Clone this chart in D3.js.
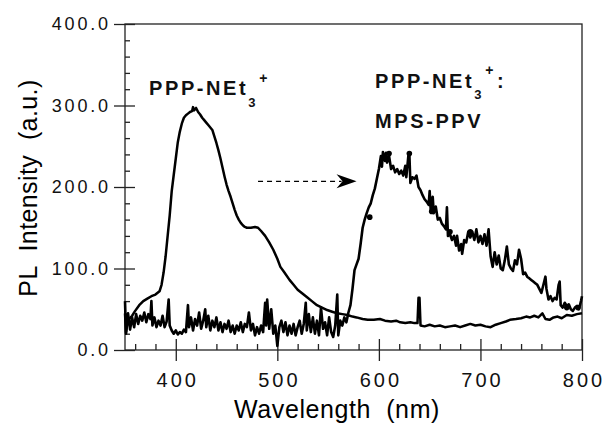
<!DOCTYPE html>
<html>
<head>
<meta charset="utf-8">
<script src="https://cdn.jsdelivr.net/npm/d3@7"></script>
<style>
  body { margin: 0; background: #fff; }
  svg { display: block; font-family: "Liberation Sans", Arial, sans-serif; }
  .axis path, .axis line { stroke: #222; stroke-width: 1.3; }
  .axis text { fill: #111; }
  .lbl { font-weight: bold; fill: #111; }
</style>
</head>
<body>
<div class="chart"></div>
<script>
// Tick values
const xTicks = [400, 500, 600, 700, 800];
const yTicks = [0, 100, 200, 300, 400];

// PPP-NEt3+ alone: [wavelength nm, PL intensity]
const pppNEt = [
  [350,45],[351,22],[352,30],[354,38],[357,42],[360,48],[364,55],[368,60],[372,63],[376,66],[380,68],[384,72],
  [386,80],[388,95],[390,115],[392,140],[394,165],[396,195],[398,215],[400,235],[402,255],[404,268],[406,278],
  [408,285],[410,288],[412,290],[414,292],[416,293],[417,298],[418,294],[420,297],[422,292],[424,289],[426,285],
  [428,282],[430,279],[432,276],[434,273],[436,270],[438,262],[440,254],[442,245],[444,235],[446,224],[448,213],
  [450,203],[452,195],[454,188],[456,180],[458,172],[460,165],[462,160],[464,156],[466,153],[468,151],[470,150],
  [474,150],[478,151],[481,150],[484,146],[488,140],[492,132],[496,123],[500,112],[503,102],[507,95],[512,86],
  [516,80],[520,74],[525,69],[529,65],[534,60],[539,55],[544,52],[549,49],[554,47],[559,45],[564,44],[569,43],
  [574,41],[578,40],[584,38],[589,37],[595,37],[601,38],[606,36],[612,35],[617,36],[621,34],[626,33],[631,34],
  [635,33],[638,33],[639,64],[640,64],[641,30],[645,29],[650,31],[655,29],[660,30],[665,28],[670,29],[675,30],
  [680,28],[685,30],[690,32],[695,30],[700,31],[705,29],[710,28],[715,31],[720,33],[725,35],[729,37],[735,38],
  [740,39],[745,41],[749,40],[753,42],[757,40],[761,45],[764,38],[768,37],[772,40],[776,41],[780,39],[785,43],
  [790,42],[795,44],[800,45]
];

// PPP-NEt3+ : MPS-PPV blend
const blend = [
  [350,60],[351,20],[353,45],[355,25],[357,40],[359,28],[361,44],[363,32],[365,42],[367,36],[369,46],[371,34],
  [373,44],[375,38],[376,60],[377,30],[379,40],[381,28],[383,36],[385,30],[387,42],[389,28],[391,35],[393,62],
  [394,30],[396,24],[398,20],[400,24],[402,19],[404,22],[406,20],[408,25],[410,22],[412,55],[413,28],[415,40],
  [417,24],[419,38],[421,30],[423,46],[425,26],[427,36],[429,50],[430,28],[432,42],[434,24],[436,36],[438,28],
  [440,40],[442,24],[444,34],[446,22],[448,32],[450,26],[452,36],[454,22],[456,30],[458,20],[460,30],[462,24],
  [464,34],[466,22],[468,32],[470,28],[472,46],[474,24],[476,32],[478,18],[480,28],[482,20],[484,30],[486,22],
  [488,58],[489,30],[490,62],[492,26],[494,50],[496,20],[498,30],[500,5],[502,28],[504,36],[506,22],[508,34],
  [510,18],[512,30],[514,20],[516,32],[518,18],[520,28],[522,36],[524,20],[526,32],[528,58],[529,24],[531,44],
  [533,22],[535,40],[537,20],[539,36],[541,18],[543,52],[545,26],[547,34],[549,18],[551,40],[553,22],[555,16],
  [557,30],[559,68],[560,18],[562,36],[564,30],[566,40],[568,34],[570,46],[572,55],[574,75],[576,98],[578,105],
  [580,112],[582,130],[584,150],[586,160],[588,168],[590,175],[592,180],[594,190],[596,198],[598,210],[600,222],
  [602,238],[603,225],[604,243],[606,232],[607,242],[608,230],[610,238],[612,222],[614,226],[616,218],[618,222],
  [620,216],[622,220],[624,214],[626,226],[627,212],[629,238],[630,241],[631,205],[633,212],[635,210],[637,214],
  [639,200],[641,196],[643,190],[645,185],[647,182],[649,178],[650,195],[651,172],[653,188],[654,168],[656,176],
  [658,160],[660,162],[662,155],[664,152],[666,148],[667,175],[668,140],[670,142],[672,135],[674,140],[676,128],
  [677,140],[679,122],[681,130],[682,118],[684,135],[686,132],[688,145],[690,138],[692,145],[694,135],[696,148],
  [698,132],[700,140],[702,130],[704,142],[706,128],[708,148],[710,115],[712,102],[714,120],[716,105],[718,116],
  [720,100],[722,98],[724,110],[726,127],[728,105],[730,100],[732,97],[734,110],[736,105],[738,123],[740,112],
  [742,93],[744,95],[746,90],[748,88],[750,86],[752,84],[754,82],[756,80],[758,75],[760,70],[762,80],[764,90],
  [765,75],[767,62],[769,66],[771,60],[773,64],[775,62],[777,80],[778,84],[779,55],[781,52],[783,58],[785,54],
  [787,56],[789,50],[791,48],[793,52],[795,54],[797,50],[799,60],[800,66]
];

// small dot markers on the blend curve
const blendDots = [[591,163],[610,241],[630,241],[652,170],[670,145],[690,145],[785,52],[796,52]];

// dashed arrow (from, to) in data units
const arrowFrom = [481, 207];
const arrowTo = [578, 207];

const W = 605, H = 426;
const margin = {top: 24, right: 23, bottom: 76, left: 125};
const x = d3.scaleLinear([350, 800], [margin.left, W - margin.right]);
const y = d3.scaleLinear([0, 400], [H - margin.bottom, margin.top]);

const svg = d3.select('.chart').append('svg')
  .attr('width', W).attr('height', H);

// frame
svg.append('rect')
  .attr('x', x(350)).attr('y', y(400))
  .attr('width', x(800) - x(350)).attr('height', y(0) - y(400))
  .attr('fill', 'none').attr('stroke', '#222').attr('stroke-width', 1.3);

// minor ticks
const minorX = d3.range(360, 800, 20).filter(d => d % 100 !== 0);
const minorY = d3.range(20, 400, 20).filter(d => d % 100 !== 0);

svg.append('g').attr('class', 'axis')
  .attr('transform', `translate(0,${y(0)})`)
  .call(d3.axisBottom(x).tickValues(minorX).tickSize(-6).tickFormat(''))
  .call(g => g.select('.domain').remove());

svg.append('g').attr('class', 'axis')
  .attr('transform', `translate(${x(350)},0)`)
  .call(d3.axisLeft(y).tickValues(minorY).tickSize(-5).tickFormat(''))
  .call(g => g.select('.domain').remove());

// major ticks, inner part
svg.append('g').attr('class', 'axis')
  .attr('transform', `translate(0,${y(0)})`)
  .call(d3.axisBottom(x).tickValues(xTicks).tickSize(-11).tickFormat(''))
  .call(g => g.select('.domain').remove());

svg.append('g').attr('class', 'axis')
  .attr('transform', `translate(${x(350)},0)`)
  .call(d3.axisLeft(y).tickValues(yTicks).tickSize(-10).tickFormat(''))
  .call(g => g.select('.domain').remove());

// major ticks, outer part with labels
const xAxis = svg.append('g').attr('class', 'axis')
  .attr('transform', `translate(0,${y(0)})`)
  .call(d3.axisBottom(x).tickValues(xTicks).tickSize(11).tickPadding(12).tickSizeOuter(0))
  .call(g => g.select('.domain').remove());
xAxis.selectAll('text')
  .style('font-size', '20px').style('letter-spacing', '3px')
  .attr('dx', '1.5px');

const yAxis = svg.append('g').attr('class', 'axis')
  .attr('transform', `translate(${x(350)},0)`)
  .call(d3.axisLeft(y).tickValues(yTicks).tickSize(11).tickPadding(6)
    .tickFormat(d3.format('.1f')).tickSizeOuter(0))
  .call(g => g.select('.domain').remove());
yAxis.selectAll('text')
  .style('font-size', '18px').style('letter-spacing', '2.8px')
  .attr('dx', '2.8px');

// axis titles
svg.append('text')
  .attr('x', 337).attr('y', 418)
  .attr('text-anchor', 'middle')
  .style('font-size', '25px').style('letter-spacing', '0.6px')
  .attr('xml:space', 'preserve')
  .text('Wavelength  (nm)');

svg.append('text')
  .attr('transform', 'translate(37,188) rotate(-90)')
  .attr('text-anchor', 'middle')
  .style('font-size', '25px').style('letter-spacing', '0.4px')
  .attr('xml:space', 'preserve')
  .text('PL  Intensity  (a.u.)');

// curves
const line = d3.line().x(d => x(d[0])).y(d => y(d[1]));

svg.append('path')
  .datum(blend)
  .attr('d', line)
  .attr('fill', 'none').attr('stroke', '#000')
  .attr('stroke-width', 2.6).attr('stroke-linejoin', 'round');

svg.append('path')
  .datum(pppNEt)
  .attr('d', line)
  .attr('fill', 'none').attr('stroke', '#000')
  .attr('stroke-width', 2.5).attr('stroke-linejoin', 'round');

svg.selectAll('.dot')
  .data(blendDots)
  .enter()
  .append('circle')
  .attr('class', 'dot')
  .attr('cx', d => x(d[0])).attr('cy', d => y(d[1]))
  .attr('r', 2.8).attr('fill', '#000');

// dashed arrow
svg.append('line')
  .attr('x1', x(arrowFrom[0])).attr('y1', y(arrowFrom[1]))
  .attr('x2', x(arrowTo[0]) - 15).attr('y2', y(arrowTo[1]))
  .attr('stroke', '#000').attr('stroke-width', 1.2)
  .attr('stroke-dasharray', '5,4');

const tx = x(arrowTo[0]), ty = y(arrowTo[1]);
svg.append('path')
  .attr('d', `M${tx},${ty} L${tx - 20},${ty - 7} L${tx - 14},${ty} L${tx - 20},${ty + 7} Z`)
  .attr('fill', '#000');

// labels
const lab1 = svg.append('text').attr('class', 'lbl')
  .attr('x', 149).attr('y', 95)
  .style('font-size', '20px').style('letter-spacing', '2.6px');
lab1.append('tspan').text('PPP-NEt');
lab1.append('tspan').text('3').style('font-size', '13px').attr('dy', 12).attr('dx', 0);
lab1.append('tspan').text('+').style('font-size', '14px').attr('dy', -24).attr('dx', 1);

const lab2 = svg.append('text').attr('class', 'lbl')
  .attr('x', 375).attr('y', 88)
  .style('font-size', '20px').style('letter-spacing', '2.6px');
lab2.append('tspan').text('PPP-NEt');
lab2.append('tspan').text('3').style('font-size', '13px').attr('dy', 11).attr('dx', 0);
lab2.append('tspan').text('+').style('font-size', '14px').attr('dy', -24).attr('dx', 1);
lab2.append('tspan').text(':').attr('dy', 13).attr('dx', 1);

svg.append('text').attr('class', 'lbl')
  .attr('x', 375).attr('y', 128)
  .style('font-size', '20px').style('letter-spacing', '2.6px')
  .text('MPS-PPV');
</script>
</body>
</html>
